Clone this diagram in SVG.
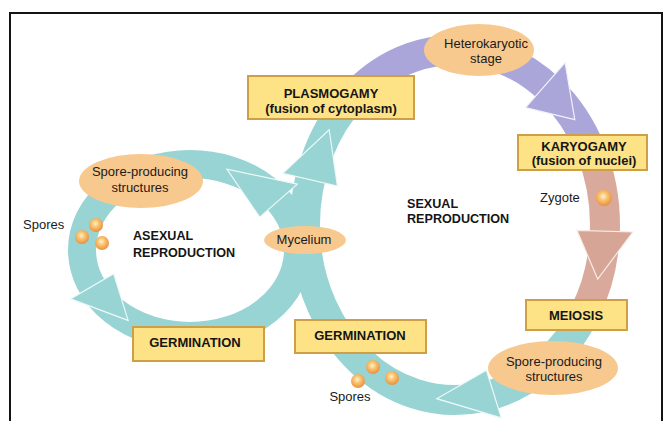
<svg xmlns="http://www.w3.org/2000/svg" width="664" height="421" viewBox="0 0 664 421">
<defs>
<style>
.teal{fill:none;stroke:#97d4d3}
.purple{fill:none;stroke:#aaa6da}
.pink{fill:none;stroke:#d9aa9c}
.headT{fill:#97d4d3;stroke:#eef8f8;stroke-width:1.2;stroke-linejoin:miter}
.headP{fill:#aaa6da;stroke:#f2f1fa;stroke-width:1.2}
.headK{fill:#d7a596;stroke:#f7ece8;stroke-width:1.2}
.oval{fill:#f8c98f}
.box{fill:#fde385;stroke:#cf9f48;stroke-width:2}
.lbl{font-family:"Liberation Sans",Arial,sans-serif;font-size:13px;fill:#1a1a1a}
.bold{font-family:"Liberation Sans",Arial,sans-serif;font-size:13px;font-weight:bold;fill:#151515}
.big{font-family:"Liberation Sans",Arial,sans-serif;font-size:12.6px;font-weight:bold;fill:#151515}
</style>
<radialGradient id="sph" cx="0.45" cy="0.4" r="0.6">
<stop offset="0" stop-color="#fff0c8"/>
<stop offset="0.45" stop-color="#f9c16e"/>
<stop offset="1" stop-color="#e8903e"/>
</radialGradient>
</defs>
<rect x="0" y="0" width="664" height="421" fill="#ffffff"/>
<rect x="10" y="13" width="652" height="430" fill="#ffffff" stroke="#141414" stroke-width="2"/>

<g id="connectors">
<ellipse class="teal" cx="190" cy="250" rx="108" ry="86" stroke-width="28"/>
<path class="teal" stroke-width="30" d="M584.9,312.5 A150,175 0 1 1 354.6,95"/>
<path class="purple" stroke-width="30" d="M354.6,95 A150,175 0 0 1 590.9,151"/>
<path class="pink" stroke-width="30" d="M590.9,151 A150,175 0 0 1 584.9,312.5"/>
<polygon class="headT" points="297.3,184.2 226.9,169.2 259.7,217.2"/>
<polygon class="headT" points="70.5,298.9 128.1,320.4 113.7,273.7"/>
<polygon class="headT" points="282.8,173.4 329.2,129.7 337.4,186"/>
<polygon class="headP" points="565.1,62.7 574.8,119.7 525.5,107.7"/>
<polygon class="headK" points="632.9,232 597.7,279.1 576.9,230.3"/>
<polygon class="headT" points="501.3,417.9 436.7,398.7 486.4,370.2"/>
</g>

<g id="plasmogamy">
<rect class="box" x="248" y="76" width="166" height="43"/>
<text class="bold" x="331" y="98" text-anchor="middle">PLASMOGAMY</text>
<text class="bold" x="331" y="113" text-anchor="middle">(fusion of cytoplasm)</text>
</g>
<g id="heterokaryotic">
<ellipse class="oval" cx="479" cy="50" rx="55" ry="26"/>
<text class="lbl" x="486" y="48" text-anchor="middle">Heterokaryotic</text>
<text class="lbl" x="486" y="63" text-anchor="middle">stage</text>
</g>
<g id="karyogamy">
<rect class="box" x="518" y="135" width="129" height="35"/>
<text class="bold" x="584" y="151" text-anchor="middle">KARYOGAMY</text>
<text class="bold" x="584" y="165" text-anchor="middle">(fusion of nuclei)</text>
</g>
<g id="zygote">
<text class="lbl" x="540" y="202">Zygote</text>
<circle cx="604" cy="198" r="8" fill="url(#sph)"/>
</g>
<g id="meiosis">
<rect class="box" x="526" y="300" width="101" height="30"/>
<text class="bold" x="576" y="320" text-anchor="middle">MEIOSIS</text>
</g>
<g id="spore-structures-sexual">
<ellipse class="oval" cx="553" cy="368" rx="65" ry="27"/>
<text class="lbl" x="554" y="366" text-anchor="middle">Spore-producing</text>
<text class="lbl" x="554" y="381" text-anchor="middle">structures</text>
</g>
<g id="spores-sexual">
<circle cx="373" cy="367" r="7" fill="url(#sph)"/>
<circle cx="392" cy="378" r="7" fill="url(#sph)"/>
<circle cx="358" cy="381" r="7" fill="url(#sph)"/>
<text class="lbl" x="350" y="401" text-anchor="middle">Spores</text>
</g>
<g id="germination-sexual">
<rect class="box" x="295" y="320" width="131" height="33"/>
<text class="bold" x="360" y="340" text-anchor="middle">GERMINATION</text>
</g>
<g id="mycelium">
<ellipse class="oval" cx="305" cy="240" rx="41" ry="14"/>
<text class="lbl" x="304" y="244" text-anchor="middle">Mycelium</text>
</g>
<g id="spore-structures-asexual">
<ellipse class="oval" cx="141" cy="181" rx="62" ry="27"/>
<text class="lbl" x="140" y="176" text-anchor="middle">Spore-producing</text>
<text class="lbl" x="140" y="192" text-anchor="middle">structures</text>
</g>
<g id="spores-asexual">
<text class="lbl" x="23" y="229">Spores</text>
<circle cx="96" cy="225" r="7" fill="url(#sph)"/>
<circle cx="82" cy="237" r="7" fill="url(#sph)"/>
<circle cx="102" cy="243" r="7" fill="url(#sph)"/>
</g>
<g id="germination-asexual">
<rect class="box" x="133" y="327" width="131" height="34"/>
<text class="bold" x="195" y="347" text-anchor="middle">GERMINATION</text>
</g>
<g id="labels">
<text class="big" x="133" y="240">ASEXUAL</text>
<text class="big" x="133" y="257">REPRODUCTION</text>
<text class="big" x="407" y="208">SEXUAL</text>
<text class="big" x="407" y="223">REPRODUCTION</text>
</g>
</svg>
